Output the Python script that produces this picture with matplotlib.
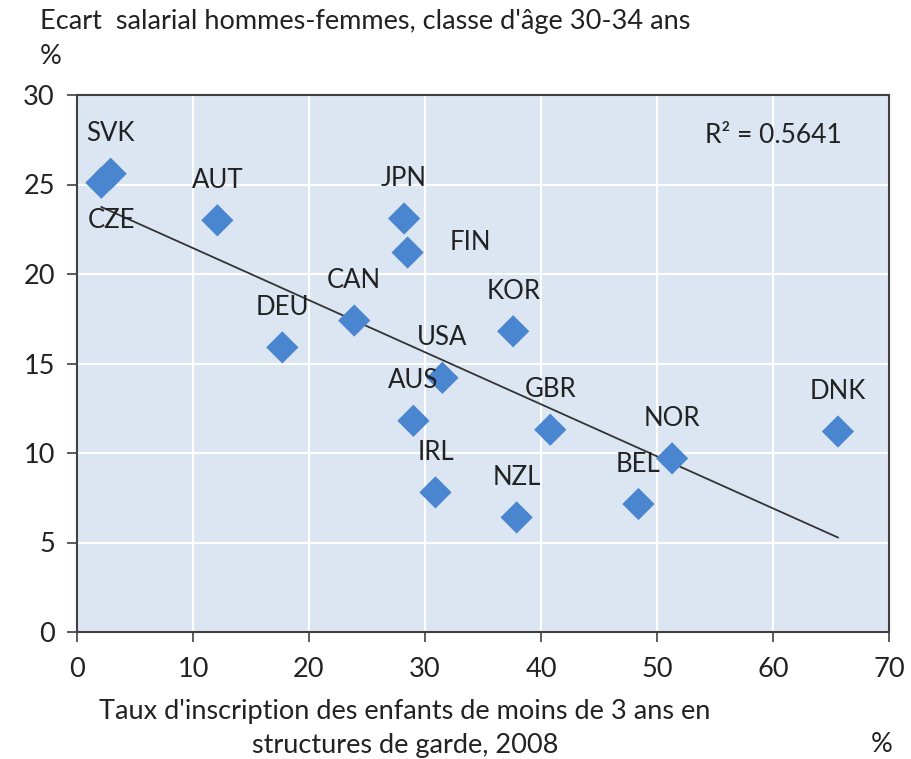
import numpy as np
import matplotlib
matplotlib.use("Agg")
import matplotlib.pyplot as plt

# Data
countries = ["SVK", "CZE", "AUT", "JPN", "FIN", "CAN", "DEU", "KOR",
             "USA", "AUS", "GBR", "IRL", "NZL", "BEL", "NOR", "DNK"]
enrolment = [2.9, 2.1, 12.1, 28.2, 28.5, 23.9, 17.7, 37.6,
             31.5, 29.0, 40.8, 30.9, 37.9, 48.4, 51.3, 65.6]
wage_gap = [25.6, 25.1, 23.0, 23.1, 21.2, 17.4, 15.9, 16.8,
            14.2, 11.8, 11.3, 7.8, 6.4, 7.15, 9.7, 11.2]
r2_text = "R² = 0.5641"

# label offsets in pixels (default: straight above the marker)
label_offsets = {"CZE": (10, -38), "FIN": (63, 10)}

plt.rcParams["font.family"] = ["Lato", "DejaVu Sans"]

fig = plt.figure(figsize=(9.11, 7.59), dpi=100)
ax = fig.add_axes([77 / 911, 1 - 632 / 759, 812 / 911, 537 / 759])
ax.set_facecolor("#DCE6F2")

ax.set_xlim(0, 70)
ax.set_ylim(0, 30)
ax.set_xticks(range(0, 71, 10))
ax.set_yticks(range(0, 31, 5))
ax.grid(True, color="white", linewidth=1.5)
ax.set_axisbelow(True)
for s in ax.spines.values():
    s.set_color("#404040")
    s.set_linewidth(1.5)
ax.tick_params(direction="out", length=7, width=1.2, color="#404040",
               labelsize=19.5, labelcolor="#222222")
ax.tick_params(axis="y", pad=9)
ax.tick_params(axis="x", pad=11)

# trend line
coef = np.polyfit(enrolment, wage_gap, 1)
xs = np.array([min(enrolment), max(enrolment)])
ax.plot(xs, np.polyval(coef, xs), color="#333333", linewidth=1.3, zorder=2)

ax.scatter(enrolment, wage_gap, marker="D", s=270, color="#4A85D0",
           edgecolors="none", zorder=3)

for c, x, y in zip(countries, enrolment, wage_gap):
    dx, dy = label_offsets.get(c, (0, 40))
    ax.annotate(c, (x, y), xytext=(dx, dy), textcoords="offset pixels",
                ha="center", va="center", fontsize=18.5, color="#222222", zorder=4)

ax.text(0.857, 0.925, r2_text, transform=ax.transAxes, ha="center", va="center",
        fontsize=19, color="#222222")

fig.text(40 / 911, 1 - 22 / 759, "Ecart  salarial hommes-femmes, classe d'âge 30-34 ans",
         ha="left", va="center", fontsize=19.5, color="#222222")
fig.text(40 / 911, 1 - 57 / 759, "%", ha="left", va="center", fontsize=19.5, color="#222222")
fig.text(405 / 911, 1 - 712 / 759, "Taux d'inscription des enfants de moins de 3 ans en",
         ha="center", va="center", fontsize=19.5, color="#222222")
fig.text(405 / 911, 1 - 745 / 759, "structures de garde, 2008",
         ha="center", va="center", fontsize=19.5, color="#222222")
fig.text(882 / 911, 1 - 745 / 759, "%", ha="center", va="center", fontsize=19.5, color="#222222")

fig.savefig("out.png", dpi=100)
